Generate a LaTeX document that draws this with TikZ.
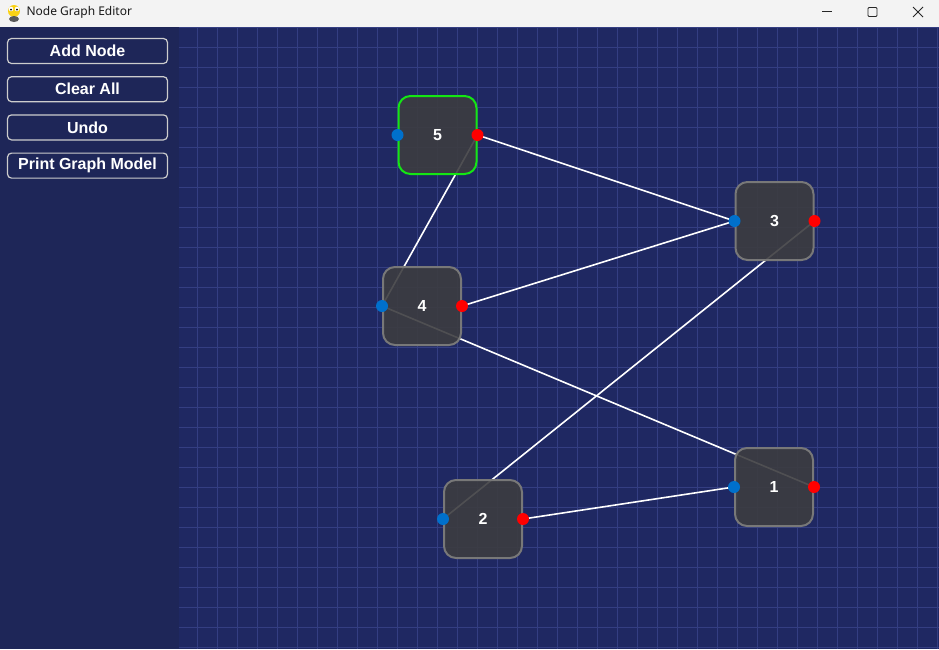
\documentclass[tikz,border=0pt]{standalone}
\usepackage{fontspec}
\setmainfont{Liberation Sans}
\newfontfamily\titlefont{Noto Sans}
\usetikzlibrary{positioning}
\definecolor{titleBar}{RGB}{243,243,243}
\definecolor{sideBg}  {RGB}{30,  38,  88}
\definecolor{canvasBg}{RGB}{31,  40,  98}
\definecolor{gridLine}{RGB}{52,  62, 130}
\definecolor{nodeFill}{RGB}{60,  60,  64}
\definecolor{nodeEdge}{RGB}{120, 120, 120}
\definecolor{selGreen}{RGB}{20, 230,  20}
\definecolor{inBlue}  {RGB}{0,  112, 204}
\definecolor{outRed}  {RGB}{255,  0,   0}
\definecolor{btnEdge} {RGB}{205, 205, 205}
\definecolor{iconYellow}{RGB}{250, 210, 20}
\pgfdeclarelayer{back}
\pgfdeclarelayer{wires}
\pgfsetlayers{back,wires,main}

\begin{document}
\begin{tikzpicture}[x=1pt, y=-1pt,
  button/.style={draw=btnEdge, line width=1.2pt, rounded corners=4pt, fill=sideBg,
    minimum width=160pt, minimum height=25pt, inner sep=0pt, text=white,
    font=\bfseries\fontsize{16}{18}\selectfont},
  gnode/.style={draw=nodeEdge, line width=2pt, rounded corners=12pt, fill=nodeFill,
    fill opacity=0.9, text opacity=1, minimum size=78pt, inner sep=0pt, text=white,
    font=\bfseries\fontsize{16}{18}\selectfont},
  selected/.style={draw=selGreen},
  inport/.style={circle, fill=inBlue, inner sep=0pt, minimum size=12pt},
  outport/.style={circle, fill=outRed, inner sep=0pt, minimum size=12pt},
  wire/.style={draw=white, line width=1.6pt}]
  \useasboundingbox (0,0) rectangle (939,649);

  % window frame and canvas
  \begin{pgfonlayer}{back}
    \fill[titleBar] (0,0) rectangle (939,27);
    \fill[sideBg] (0,27) rectangle (179,649);
    \fill[canvasBg] (179,27) rectangle (939,649);
    \foreach \x in {0,...,37}
      \draw[gridLine, line width=1pt] ({197.3+20*\x},27) -- ({197.3+20*\x},649);
    \foreach \y in {0,...,31}
      \draw[gridLine, line width=1pt] (179,{27.3+20*\y}) -- (939,{27.3+20*\y});
  \end{pgfonlayer}

  % title bar
  \fill[iconYellow] (14,11) ellipse (6 and 6);
  \fill[gray!70!black] (14,19) ellipse (5 and 3);
  \fill[white] (11,9) circle (2.3);
  \fill[white] (17,9) circle (2.3);
  \fill[black] (11,9.5) circle (1);
  \fill[black] (17,9.5) circle (1);
  \node[anchor=west, font=\titlefont\fontsize{12}{14}\selectfont, text=black!90] (title) at (23,12.5) {Node Graph Editor};
  \draw[black!85, line width=0.8pt] (822,11.5) -- (832,11.5);
  \draw[black!85, line width=0.8pt, rounded corners=1pt] (868,7.5) rectangle (877,16.5);
  \draw[black!85, line width=0.8pt] (913,7) -- (923,17) (913,17) -- (923,7);

  % side buttons
  \node[button] (add) at (87.5,51) {Add Node};
  \node[button, below=12pt of add] (clear) {Clear All};
  \node[button, below=12pt of clear] (undo) {Undo};
  \node[button, below=12pt of undo] (print) {Print Graph Model};

  % graph nodes
  \node[gnode, selected] (n5) at (437.5,135) {5};
  \node[gnode] (n3) at (774.5,221) {3};
  \node[gnode] (n4) at (422,306) {4};
  \node[gnode] (n2) at (483,519) {2};
  \node[gnode] (n1) at (774,487) {1};

  \foreach \n in {1,...,5} {
    \node[inport]  (i\n) at (n\n.west) {};
    \node[outport] (o\n) at (n\n.east) {};
  }

  % connections
  \begin{pgfonlayer}{wires}
    \draw[wire] (o5.center) -- (i3.center);
    \draw[wire] (o4.center) -- (i3.center);
    \draw[wire] (o5.center) -- (i4.center);
    \draw[wire] (o3.center) -- (i2.center);
    \draw[wire] (o1.center) -- (i4.center);
    \draw[wire] (o2.center) -- (i1.center);
  \end{pgfonlayer}
\end{tikzpicture}
\end{document}
